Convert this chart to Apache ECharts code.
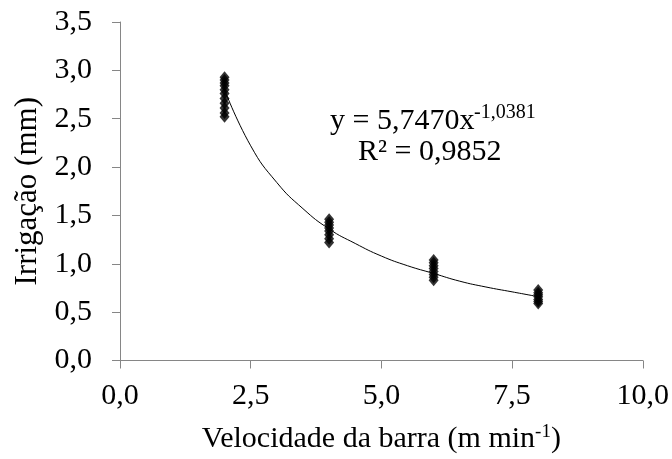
<!DOCTYPE html>
<html>
<head>
<meta charset="utf-8">
<script src="https://cdn.jsdelivr.net/npm/echarts@6/dist/echarts.min.js"></script>
<style>
  html, body { margin: 0; padding: 0; background: #fff; }
  #chart { width: 672px; height: 459px; }
</style>
</head>
<body>
<div id="chart"></div>
<script>
const speeds = [2, 4, 6, 8];
const depthAt2 = [2.93, 2.90, 2.87, 2.84, 2.80, 2.76, 2.71, 2.66, 2.61, 2.56, 2.52];
const depthAt4 = [1.46, 1.43, 1.40, 1.37, 1.34, 1.30, 1.26, 1.22];
const depthAt6 = [1.04, 1.01, 0.98, 0.95, 0.92, 0.89, 0.86, 0.83];
const depthAt8 = [0.73, 0.70, 0.68, 0.66, 0.63, 0.61, 0.59];

// fitted power curve
const trendX = [2, 2.5, 3, 3.5, 4, 4.5, 5, 5.5, 6, 6.5, 7, 7.5, 8];
const trendY = [2.80, 2.22, 1.84, 1.57, 1.36, 1.21, 1.08, 0.98, 0.90, 0.82, 0.76, 0.71, 0.66];

const xTicks = [0, 2.5, 5, 7.5, 10];
const yTicks = [0, 0.5, 1, 1.5, 2, 2.5, 3, 3.5];

const FONT = '"Liberation Serif", "DejaVu Serif", serif';
const fmt = v => v.toFixed(1).replace('.', ',');

const groups = [depthAt2, depthAt4, depthAt6, depthAt8];
const points = [];
groups.forEach((g, i) => g.forEach(v => points.push([speeds[i], v])));

const chart = echarts.init(document.getElementById('chart'));

chart.setOption({
  backgroundColor: '#fff',
  animation: false,
  grid: { left: 120, right: 29, top: 22, bottom: 97 },
  xAxis: {
    type: 'value',
    min: xTicks[0],
    max: xTicks[xTicks.length - 1],
    interval: 2.5,
    name: 'Velocidade da barra (m min{sup|-1})',
    nameLocation: 'middle',
    nameGap: 62,
    nameTextStyle: {
      fontFamily: FONT, fontSize: 30, color: '#000',
      rich: {
        sup: { fontFamily: FONT, fontSize: 19, color: '#000', verticalAlign: 'top', padding: [0, 0, 14, 0] }
      }
    },
    axisLine: { lineStyle: { color: '#868686', width: 1 } },
    axisTick: { show: true, inside: false, length: 8, lineStyle: { color: '#868686' } },
    axisLabel: { fontFamily: FONT, fontSize: 30, color: '#000', margin: 21, formatter: fmt },
    splitLine: { show: false }
  },
  yAxis: {
    type: 'value',
    min: yTicks[0],
    max: yTicks[yTicks.length - 1],
    interval: 0.5,
    name: 'Irrigação (mm)',
    nameLocation: 'middle',
    nameGap: 75,
    nameTextStyle: { fontFamily: FONT, fontSize: 31, color: '#000' },
    axisLine: { show: true, lineStyle: { color: '#868686', width: 1 } },
    axisTick: { show: true, inside: false, length: 8, lineStyle: { color: '#868686' } },
    axisLabel: { fontFamily: FONT, fontSize: 30, color: '#000', margin: 28, formatter: fmt },
    splitLine: { show: false }
  },
  series: [
    {
      type: 'line',
      data: trendX.map((x, i) => [x, trendY[i]]),
      smooth: true,
      showSymbol: false,
      lineStyle: { color: '#000', width: 1 },
      z: 1
    },
    {
      type: 'scatter',
      data: points,
      symbol: 'diamond',
      symbolSize: [10, 12],
      itemStyle: { color: '#000' },
      z: 2
    }
  ],
  graphic: [
    {
      type: 'text',
      left: 330,
      top: 106,
      style: { text: 'y = 5,7470x', fontFamily: FONT, fontSize: 30, fill: '#000' }
    },
    {
      type: 'text',
      left: 474,
      top: 103,
      style: { text: '-1,0381', fontFamily: FONT, fontSize: 20, fill: '#000' }
    },
    {
      type: 'text',
      left: 358,
      top: 137,
      style: { text: 'R² = 0,9852', fontFamily: FONT, fontSize: 30, fill: '#000' }
    }
  ]
});
</script>
</body>
</html>
